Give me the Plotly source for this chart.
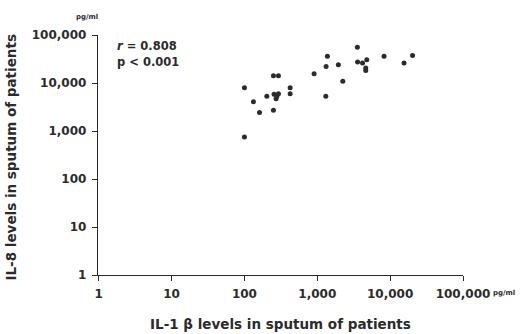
import plotly.graph_objects as go

# IL-1 beta (x, pg/ml) vs IL-8 (y, pg/ml) in sputum
il1b = [100, 133, 161, 203, 250, 293, 255, 278, 272, 293, 250, 100, 424, 424,
        904, 1321, 1309, 1376, 1946, 2239, 3548, 3572, 4180, 4776, 4625, 4625,
        8245, 15520, 20280]
il8 = [7980, 4080, 2415, 5265, 14190, 14190, 5800, 5265, 4720, 5990, 2694, 750,
       7980, 5990, 15600, 22130, 5265, 36240, 23990, 10890, 55470, 27470, 26180,
       30680, 20600, 18270, 36240, 26180, 37480]

tick_vals = [1, 10, 100, 1000, 10000, 100000]
tick_text = ["1", "10", "100", "1,000", "10,000", "100,000"]

FONT = "DejaVu Sans, sans-serif"
INK = "#2b2b2b"

fig = go.Figure()
fig.add_trace(go.Scatter(
    x=il1b, y=il8, mode="markers",
    marker=dict(size=5, color=INK),
    showlegend=False,
))

axis_common = dict(
    type="log",
    tickvals=tick_vals, ticktext=tick_text,
    ticks="outside", ticklen=5, tickwidth=1.2, tickcolor=INK,
    showline=True, linecolor=INK, linewidth=1.4,
    showgrid=False, zeroline=False,
    tickfont=dict(family=FONT, size=12, color=INK, weight="bold"),
)

fig.update_layout(
    width=523, height=334,
    margin=dict(l=98, r=60, t=35, b=59),
    paper_bgcolor="white", plot_bgcolor="white",
    xaxis=dict(range=[-0.01, 5.0], ticklabelstandoff=2, **axis_common),
    yaxis=dict(range=[0, 5.0], ticklabelstandoff=3, **axis_common),
    annotations=[
        dict(text="<i>r</i> = 0.808", xref="paper", yref="paper", x=0.047, y=0.954,
             xanchor="left", yanchor="middle", showarrow=False,
             font=dict(family=FONT, size=11.5, color=INK, weight="bold")),
        dict(text="p < 0.001", xref="paper", yref="paper", x=0.047, y=0.8875,
             xanchor="left", yanchor="middle", showarrow=False,
             font=dict(family=FONT, size=11.5, color=INK, weight="bold")),
        dict(text="IL-8 levels in sputum of patients", xref="paper", yref="paper",
             x=-0.238, y=0.49, textangle=-90, xanchor="center", yanchor="middle",
             showarrow=False, font=dict(family=FONT, size=13.5, color=INK, weight="bold")),
        dict(text="IL-1 β levels in sputum of patients", xref="paper", yref="paper",
             x=0.5, y=-0.203, xanchor="center", yanchor="middle", showarrow=False,
             font=dict(family=FONT, size=13.5, color=INK, weight="bold")),
        dict(text="pg/ml", xref="paper", yref="paper", x=0.005, y=1.075,
             xanchor="right", yanchor="middle", showarrow=False,
             font=dict(family=FONT, size=7, color=INK, weight="bold")),
        dict(text="pg/ml", xref="paper", yref="paper", x=1.078, y=-0.075,
             xanchor="left", yanchor="middle", showarrow=False,
             font=dict(family=FONT, size=7, color=INK, weight="bold")),
    ],
)

fig.write_html("out.html")
